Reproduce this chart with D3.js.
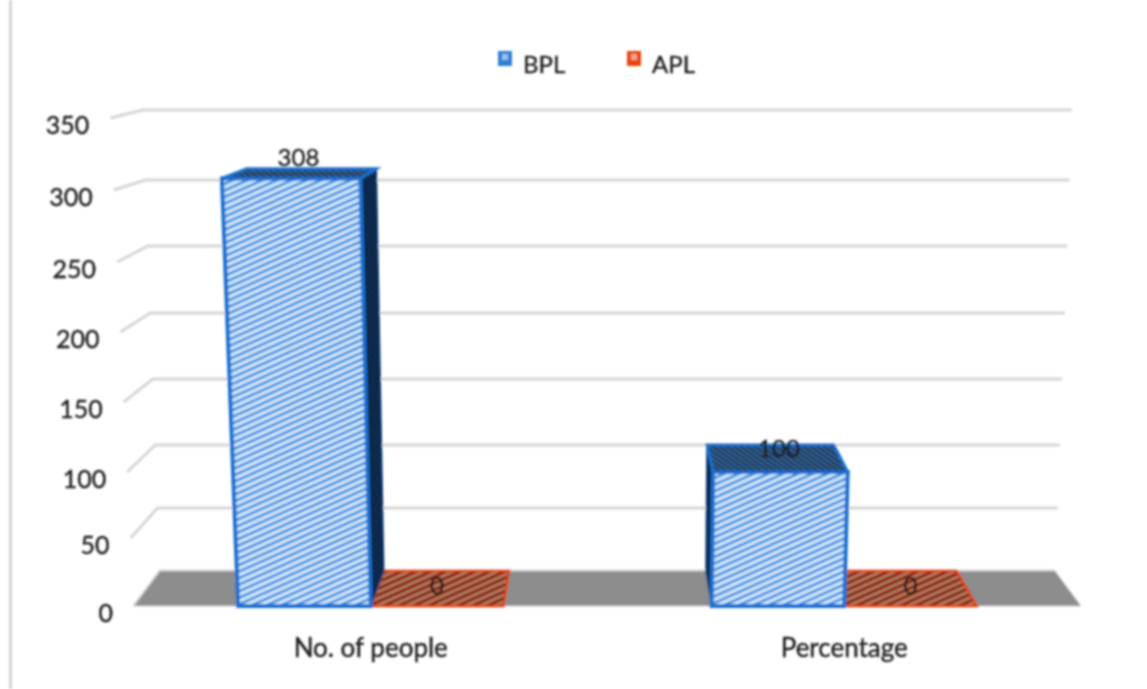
<!DOCTYPE html>
<html lang="en">
<head>
<meta charset="utf-8">
<title>BPL and APL</title>
<style>
  html, body { margin: 0; padding: 0; background: #fff; }
  svg { display: block; }
  text { font-family: Lato, "Open Sans", sans-serif; fill: #1c1c1c; stroke: #1c1c1c; stroke-width: 0.35px; }
</style>
</head>
<body>
<svg width="1147" height="689"></svg>
<script src="https://d3js.org/d3.v7.min.js"></script>
<script>
var categories = ["No. of people", "Percentage"];
var seriesNames = ["BPL", "APL"];
var bplValues = [308, 100];
var aplValues = [0, 0];
var yTicks = [0, 50, 100, 150, 200, 250, 300, 350];

var svg = d3.select("svg");
var defs = svg.append("defs");

// slight blur, the reference is a soft upscaled picture
defs.append("filter").attr("id", "soft")
    .attr("x", "-5%").attr("y", "-5%").attr("width", "110%").attr("height", "110%")
  .append("feGaussianBlur").attr("stdDeviation", 0.9);

function stripes(id, bg, fg, size, thick, angle) {
  var p = defs.append("pattern").attr("id", id)
      .attr("patternUnits", "userSpaceOnUse")
      .attr("width", 12).attr("height", size)
      .attr("patternTransform", "rotate(" + angle + ")");
  p.append("rect").attr("width", 12).attr("height", size).attr("fill", bg);
  p.append("rect").attr("width", 12).attr("height", thick).attr("fill", fg);
}
stripes("hatchBlue", "#d6e9fc", "#358ae0", 6, 2.6, -24);
stripes("hatchRed", "#ad7d62", "#8c1f05", 6, 3, -24);
stripes("hatchTop", "#3a6288", "#123765", 4, 2, 35);
stripes("hatchSide", "#0d3157", "#08223f", 4, 2, 45);

// the 3d box: u runs along the floor, depth 0 is the front edge and 1 the back wall
var cx = 607;
var floorFront = d3.scaleLinear().domain([0, 1]).range([134, 1081]);
var floorBack = d3.scaleLinear().domain([0, 1]).range([160, 1055]);
var yFront = d3.scaleLinear().domain(yTicks).range([606, 538, 472, 402, 332, 262, 190, 118]);
var yBack = d3.scaleLinear().domain(yTicks).range([571, 508, 445, 379, 313, 246, 180, 110]);
var spreadFront = d3.scaleLinear().domain([0, 350]).range([1, 1.05]);
var spreadBack = d3.scaleLinear().domain([0, 350]).range([1, 1.038]);

function project(u, depth, v) {
  var fx = cx + (floorFront(u) - cx) * spreadFront(v);
  var bx = cx + (floorBack(u) - cx) * spreadBack(v);
  return [fx + (bx - fx) * depth, yFront(v) + (yBack(v) - yFront(v)) * depth];
}
function poly(points) {
  return "M" + points.map(function(p) { return p.join(","); }).join("L") + "Z";
}

var x0 = d3.scaleBand().domain(categories).range([0, 1]).paddingInner(0.44).paddingOuter(0.22);
var x1 = d3.scaleBand().domain(seriesNames).range([0, x0.bandwidth()]);

var chart = svg.append("g").attr("filter", "url(#soft)");

// vertical rule at the left edge of the picture
chart.append("line").attr("x1", 10.5).attr("x2", 10.5).attr("y1", 0).attr("y2", 689)
    .attr("stroke", "#d4d4d4").attr("stroke-width", 3);

// gridlines: short slanted piece on the side wall, then along the back wall
chart.selectAll(".grid").data(yTicks).enter().append("path")
    .attr("class", "grid")
    .attr("fill", "none")
    .attr("stroke", "#d6d6d6")
    .attr("stroke-width", 3)
    .attr("d", function(t) {
      var pts = [project(0, 0, t), project(0, 1, t), project(1, 1, t)];
      return "M" + pts.map(function(p) { return p.join(","); }).join("L");
    });

// floor
chart.append("path")
    .attr("fill", "#8d8d8d")
    .attr("stroke", "#d0d0d0")
    .attr("stroke-width", 1)
    .attr("d", poly([project(0, 0, 0), project(0, 1, 0), project(1, 1, 0), project(1, 0, 0)]));

var rows = [];
seriesNames.slice().reverse().forEach(function(s) {
  categories.forEach(function(c, i) {
    rows.push({cat: c, name: s, value: (s === "BPL" ? bplValues : aplValues)[i]});
  });
});

// APL comes first in rows, the tall bars have to stand in front of it
var bars = chart.selectAll(".bar").data(rows).enter().append("g").attr("class", "bar");

bars.each(function(d) {
  var g = d3.select(this);
  var a = x0(d.cat) + x1(d.name);
  var b = a + x1.bandwidth();
  var blue = d.name === "BPL";
  var edge = blue ? "#1a6fd0" : "#e5400c";

  if (d.value > 0) {
    // side face, the one turned to the middle of the picture
    var s = floorFront(a) < cx ? b : a;
    g.append("path")
        .attr("fill", "url(#hatchSide)")
        .attr("stroke", "#0b3f7d").attr("stroke-width", 1.5)
        .attr("d", poly([project(s, 0, d.value), project(s, 1, d.value), project(s, 1, 0), project(s, 0, 0)]));
    g.append("path")
        .attr("fill", "url(#hatchBlue)")
        .attr("stroke", edge).attr("stroke-width", 4)
        .attr("d", poly([project(a, 0, d.value), project(b, 0, d.value), project(b, 0, 0), project(a, 0, 0)]));
  }
  // top face, for a zero bar this is all there is
  g.append("path")
      .attr("fill", blue ? "url(#hatchTop)" : "url(#hatchRed)")
      .attr("stroke", edge).attr("stroke-width", blue ? 3 : 2.5)
      .attr("d", poly([project(a, 0, d.value), project(a, 1, d.value), project(b, 1, d.value), project(b, 0, d.value)]));
});

// data labels
var labelNudge = {"No. of people BPL": [-6, 156 - 178], "Percentage BPL": [1, 447 - 472]};
chart.selectAll(".value").data(rows).enter().append("text")
    .attr("class", "value")
    .attr("text-anchor", "middle")
    .attr("dominant-baseline", "central")
    .attr("font-size", 24)
    .attr("x", function(d) {
      var n = labelNudge[d.cat + " " + d.name] || [0, 0];
      return floorFront(x0(d.cat) + x1(d.name) + x1.bandwidth() / 2) + n[0];
    })
    .attr("y", function(d) {
      var n = labelNudge[d.cat + " " + d.name] || [0, -22];
      return yFront(d.value) + n[1];
    })
    .text(function(d) { return d.value; });

// value axis, each tick slides along the slanted front edge
var yAxis = chart.append("g")
    .call(d3.axisLeft(yFront).tickValues(yTicks).tickSize(0).tickPadding(0));
yAxis.select(".domain").remove();
yAxis.attr("font-family", null).attr("font-size", 25);
yAxis.selectAll(".tick text")
    .attr("text-anchor", "end")
    .attr("dy", "0.32em")
    .attr("x", function(t) { return project(0, 0, t)[0] - 21; })
    .attr("y", 7);

// category axis
var xAxisScale = d3.scaleBand().domain(categories)
    .range([floorFront(0), floorFront(1)]).paddingInner(0.44).paddingOuter(0.22);
var xAxis = chart.append("g")
    .attr("transform", "translate(0,606)")
    .call(d3.axisBottom(xAxisScale).tickSize(0).tickPadding(0));
xAxis.attr("font-family", null).attr("font-size", 26);
xAxis.select(".domain").remove();
xAxis.selectAll(".tick text").attr("dy", null).attr("y", 51);

// legend
var legendX = d3.scaleOrdinal().domain(seriesNames).range([498, 627]);
var legendColor = d3.scaleOrdinal().domain(seriesNames).range(["#2f7fd6", "#ea4510"]);
var legend = chart.selectAll(".legend").data(seriesNames).enter().append("g")
    .attr("class", "legend")
    .attr("transform", function(d) { return "translate(" + legendX(d) + ",51)"; });
legend.append("rect")
    .attr("width", 14).attr("height", 15)
    .attr("fill", function(d) { return legendColor(d); });
legend.append("rect")
    .attr("x", 4).attr("y", 3).attr("width", 6).attr("height", 6)
    .attr("fill", "#fff").attr("opacity", 0.5);
legend.append("text")
    .attr("x", 25).attr("y", 22)
    .attr("font-size", 24)
    .text(function(d) { return d; });
</script>
</body>
</html>
